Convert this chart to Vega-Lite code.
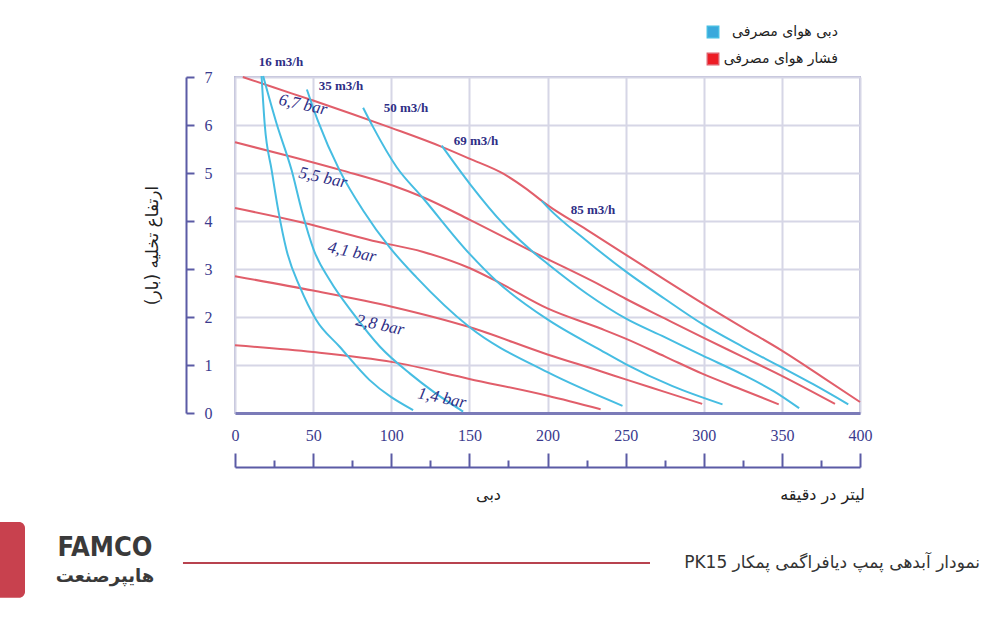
{
  "$schema": "https://vega.github.io/schema/vega-lite/v6.json",
  "width": 625,
  "height": 336,
  "autosize": "none",
  "padding": {"left": 235, "top": 77, "right": 140, "bottom": 207},
  "background": "white",
  "config": {"view": {"stroke": "#bcbcd6", "strokeWidth": 2}},
  "datasets": {
    "curves": [
      {"series": "p67", "kind": "فشار هوای مصرفی", "flow": 5, "head": 7.0},
      {"series": "p67", "kind": "فشار هوای مصرفی", "flow": 25, "head": 6.78},
      {"series": "p67", "kind": "فشار هوای مصرفی", "flow": 50, "head": 6.51},
      {"series": "p67", "kind": "فشار هوای مصرفی", "flow": 75, "head": 6.23},
      {"series": "p67", "kind": "فشار هوای مصرفی", "flow": 100, "head": 5.94},
      {"series": "p67", "kind": "فشار هوای مصرفی", "flow": 132, "head": 5.55},
      {"series": "p67", "kind": "فشار هوای مصرفی", "flow": 150, "head": 5.3},
      {"series": "p67", "kind": "فشار هوای مصرفی", "flow": 172, "head": 4.98},
      {"series": "p67", "kind": "فشار هوای مصرفی", "flow": 186, "head": 4.68},
      {"series": "p67", "kind": "فشار هوای مصرفی", "flow": 200, "head": 4.33},
      {"series": "p67", "kind": "فشار هوای مصرفی", "flow": 225, "head": 3.82},
      {"series": "p67", "kind": "فشار هوای مصرفی", "flow": 250, "head": 3.3},
      {"series": "p67", "kind": "فشار هوای مصرفی", "flow": 275, "head": 2.78},
      {"series": "p67", "kind": "فشار هوای مصرفی", "flow": 300, "head": 2.27},
      {"series": "p67", "kind": "فشار هوای مصرفی", "flow": 325, "head": 1.78},
      {"series": "p67", "kind": "فشار هوای مصرفی", "flow": 350, "head": 1.3},
      {"series": "p67", "kind": "فشار هوای مصرفی", "flow": 375, "head": 0.77},
      {"series": "p67", "kind": "فشار هوای مصرفی", "flow": 400, "head": 0.23},

      {"series": "p55", "kind": "فشار هوای مصرفی", "flow": 0, "head": 5.64},
      {"series": "p55", "kind": "فشار هوای مصرفی", "flow": 35, "head": 5.35},
      {"series": "p55", "kind": "فشار هوای مصرفی", "flow": 69, "head": 5.05},
      {"series": "p55", "kind": "فشار هوای مصرفی", "flow": 100, "head": 4.75},
      {"series": "p55", "kind": "فشار هوای مصرفی", "flow": 120, "head": 4.5},
      {"series": "p55", "kind": "فشار هوای مصرفی", "flow": 150, "head": 4.03},
      {"series": "p55", "kind": "فشار هوای مصرفی", "flow": 191, "head": 3.35},
      {"series": "p55", "kind": "فشار هوای مصرفی", "flow": 234, "head": 2.66},
      {"series": "p55", "kind": "فشار هوای مصرفی", "flow": 250, "head": 2.38},
      {"series": "p55", "kind": "فشار هوای مصرفی", "flow": 275, "head": 1.97},
      {"series": "p55", "kind": "فشار هوای مصرفی", "flow": 299, "head": 1.58},
      {"series": "p55", "kind": "فشار هوای مصرفی", "flow": 325, "head": 1.17},
      {"series": "p55", "kind": "فشار هوای مصرفی", "flow": 349, "head": 0.79},
      {"series": "p55", "kind": "فشار هوای مصرفی", "flow": 384, "head": 0.19},

      {"series": "p41", "kind": "فشار هوای مصرفی", "flow": 0, "head": 4.27},
      {"series": "p41", "kind": "فشار هوای مصرفی", "flow": 43, "head": 3.97},
      {"series": "p41", "kind": "فشار هوای مصرفی", "flow": 88, "head": 3.59},
      {"series": "p41", "kind": "فشار هوای مصرفی", "flow": 120, "head": 3.36},
      {"series": "p41", "kind": "فشار هوای مصرفی", "flow": 150, "head": 3.02},
      {"series": "p41", "kind": "فشار هوای مصرفی", "flow": 170, "head": 2.7},
      {"series": "p41", "kind": "فشار هوای مصرفی", "flow": 200, "head": 2.18},
      {"series": "p41", "kind": "فشار هوای مصرفی", "flow": 234, "head": 1.76},
      {"series": "p41", "kind": "فشار هوای مصرفی", "flow": 250, "head": 1.55},
      {"series": "p41", "kind": "فشار هوای مصرفی", "flow": 275, "head": 1.18},
      {"series": "p41", "kind": "فشار هوای مصرفی", "flow": 299, "head": 0.82},
      {"series": "p41", "kind": "فشار هوای مصرفی", "flow": 325, "head": 0.48},
      {"series": "p41", "kind": "فشار هوای مصرفی", "flow": 348, "head": 0.18},

      {"series": "p28", "kind": "فشار هوای مصرفی", "flow": 0, "head": 2.85},
      {"series": "p28", "kind": "فشار هوای مصرفی", "flow": 50, "head": 2.55},
      {"series": "p28", "kind": "فشار هوای مصرفی", "flow": 101, "head": 2.21},
      {"series": "p28", "kind": "فشار هوای مصرفی", "flow": 150, "head": 1.79},
      {"series": "p28", "kind": "فشار هوای مصرفی", "flow": 200, "head": 1.22},
      {"series": "p28", "kind": "فشار هوای مصرفی", "flow": 234, "head": 0.87},
      {"series": "p28", "kind": "فشار هوای مصرفی", "flow": 250, "head": 0.7},
      {"series": "p28", "kind": "فشار هوای مصرفی", "flow": 275, "head": 0.44},
      {"series": "p28", "kind": "فشار هوای مصرفی", "flow": 299, "head": 0.19},

      {"series": "p14", "kind": "فشار هوای مصرفی", "flow": 0, "head": 1.41},
      {"series": "p14", "kind": "فشار هوای مصرفی", "flow": 50, "head": 1.27},
      {"series": "p14", "kind": "فشار هوای مصرفی", "flow": 101, "head": 1.06},
      {"series": "p14", "kind": "فشار هوای مصرفی", "flow": 150, "head": 0.71},
      {"series": "p14", "kind": "فشار هوای مصرفی", "flow": 200, "head": 0.36},
      {"series": "p14", "kind": "فشار هوای مصرفی", "flow": 234, "head": 0.08},

      {"series": "a16a", "kind": "دبی هوای مصرفی", "flow": 17, "head": 7.02},
      {"series": "a16a", "kind": "دبی هوای مصرفی", "flow": 19, "head": 6.02},
      {"series": "a16a", "kind": "دبی هوای مصرفی", "flow": 23.5, "head": 5.05},
      {"series": "a16a", "kind": "دبی هوای مصرفی", "flow": 27.7, "head": 4.22},
      {"series": "a16a", "kind": "دبی هوای مصرفی", "flow": 33, "head": 3.39},
      {"series": "a16a", "kind": "دبی هوای مصرفی", "flow": 41.6, "head": 2.62},
      {"series": "a16a", "kind": "دبی هوای مصرفی", "flow": 51.8, "head": 1.95},
      {"series": "a16a", "kind": "دبی هوای مصرفی", "flow": 67, "head": 1.38},
      {"series": "a16a", "kind": "دبی هوای مصرفی", "flow": 86, "head": 0.69},
      {"series": "a16a", "kind": "دبی هوای مصرفی", "flow": 114, "head": 0.06},

      {"series": "a16b", "kind": "دبی هوای مصرفی", "flow": 18, "head": 7.02},
      {"series": "a16b", "kind": "دبی هوای مصرفی", "flow": 26.7, "head": 6.02},
      {"series": "a16b", "kind": "دبی هوای مصرفی", "flow": 36.3, "head": 5.05},
      {"series": "a16b", "kind": "دبی هوای مصرفی", "flow": 42.7, "head": 4.22},
      {"series": "a16b", "kind": "دبی هوای مصرفی", "flow": 50.5, "head": 3.39},
      {"series": "a16b", "kind": "دبی هوای مصرفی", "flow": 60.8, "head": 2.76},
      {"series": "a16b", "kind": "دبی هوای مصرفی", "flow": 75.7, "head": 2.07},
      {"series": "a16b", "kind": "دبی هوای مصرفی", "flow": 92.8, "head": 1.38},
      {"series": "a16b", "kind": "دبی هوای مصرفی", "flow": 112, "head": 0.82},
      {"series": "a16b", "kind": "دبی هوای مصرفی", "flow": 128, "head": 0.42},
      {"series": "a16b", "kind": "دبی هوای مصرفی", "flow": 146, "head": 0.03},

      {"series": "a35", "kind": "دبی هوای مصرفی", "flow": 46, "head": 6.74},
      {"series": "a35", "kind": "دبی هوای مصرفی", "flow": 53, "head": 6.09},
      {"series": "a35", "kind": "دبی هوای مصرفی", "flow": 67, "head": 5.05},
      {"series": "a35", "kind": "دبی هوای مصرفی", "flow": 82, "head": 4.22},
      {"series": "a35", "kind": "دبی هوای مصرفی", "flow": 99, "head": 3.45},
      {"series": "a35", "kind": "دبی هوای مصرفی", "flow": 116, "head": 2.83},
      {"series": "a35", "kind": "دبی هوای مصرفی", "flow": 150, "head": 1.79},
      {"series": "a35", "kind": "دبی هوای مصرفی", "flow": 200, "head": 0.85},
      {"series": "a35", "kind": "دبی هوای مصرفی", "flow": 248, "head": 0.15},

      {"series": "a50", "kind": "دبی هوای مصرفی", "flow": 82, "head": 6.36},
      {"series": "a50", "kind": "دبی هوای مصرفی", "flow": 88.5, "head": 5.95},
      {"series": "a50", "kind": "دبی هوای مصرفی", "flow": 103.5, "head": 5.12},
      {"series": "a50", "kind": "دبی هوای مصرفی", "flow": 120, "head": 4.49},
      {"series": "a50", "kind": "دبی هوای مصرفی", "flow": 150, "head": 3.32},
      {"series": "a50", "kind": "دبی هوای مصرفی", "flow": 168, "head": 2.73},
      {"series": "a50", "kind": "دبی هوای مصرفی", "flow": 200, "head": 1.95},
      {"series": "a50", "kind": "دبی هوای مصرفی", "flow": 234, "head": 1.31},
      {"series": "a50", "kind": "دبی هوای مصرفی", "flow": 250, "head": 1.02},
      {"series": "a50", "kind": "دبی هوای مصرفی", "flow": 280, "head": 0.56},
      {"series": "a50", "kind": "دبی هوای مصرفی", "flow": 312, "head": 0.18},

      {"series": "a69", "kind": "دبی هوای مصرفی", "flow": 132.3, "head": 5.57},
      {"series": "a69", "kind": "دبی هوای مصرفی", "flow": 150.4, "head": 4.77},
      {"series": "a69", "kind": "دبی هوای مصرفی", "flow": 171.7, "head": 3.94},
      {"series": "a69", "kind": "دبی هوای مصرفی", "flow": 190.9, "head": 3.35},
      {"series": "a69", "kind": "دبی هوای مصرفی", "flow": 200, "head": 3.11},
      {"series": "a69", "kind": "دبی هوای مصرفی", "flow": 225, "head": 2.49},
      {"series": "a69", "kind": "دبی هوای مصرفی", "flow": 250, "head": 1.97},
      {"series": "a69", "kind": "دبی هوای مصرفی", "flow": 275, "head": 1.58},
      {"series": "a69", "kind": "دبی هوای مصرفی", "flow": 299, "head": 1.2},
      {"series": "a69", "kind": "دبی هوای مصرفی", "flow": 325, "head": 0.8},
      {"series": "a69", "kind": "دبی هوای مصرفی", "flow": 345, "head": 0.45},
      {"series": "a69", "kind": "دبی هوای مصرفی", "flow": 361, "head": 0.1},

      {"series": "a85", "kind": "دبی هوای مصرفی", "flow": 196.3, "head": 4.42},
      {"series": "a85", "kind": "دبی هوای مصرفی", "flow": 200, "head": 4.29},
      {"series": "a85", "kind": "دبی هوای مصرفی", "flow": 225, "head": 3.59},
      {"series": "a85", "kind": "دبی هوای مصرفی", "flow": 250, "head": 2.95},
      {"series": "a85", "kind": "دبی هوای مصرفی", "flow": 275, "head": 2.38},
      {"series": "a85", "kind": "دبی هوای مصرفی", "flow": 299.3, "head": 1.85},
      {"series": "a85", "kind": "دبی هوای مصرفی", "flow": 325, "head": 1.38},
      {"series": "a85", "kind": "دبی هوای مصرفی", "flow": 349.4, "head": 0.96},
      {"series": "a85", "kind": "دبی هوای مصرفی", "flow": 370, "head": 0.6},
      {"series": "a85", "kind": "دبی هوای مصرفی", "flow": 392.5, "head": 0.18}
    ],
    "airLabels": [
      {"flow": 29.4, "head": 7.31, "label": "16 m3/h"},
      {"flow": 67.8, "head": 6.81, "label": "35 m3/h"},
      {"flow": 109.4, "head": 6.35, "label": "50 m3/h"},
      {"flow": 154.2, "head": 5.67, "label": "69 m3/h"},
      {"flow": 229.1, "head": 4.23, "label": "85 m3/h"}
    ],
    "barLabels": [
      {"flow": 43.5, "head": 6.42, "label": "6,7 bar"},
      {"flow": 56.3, "head": 4.9, "label": "5,5 bar"},
      {"flow": 74.9, "head": 3.35, "label": "4,1 bar"},
      {"flow": 92.8, "head": 1.83, "label": "2,8 bar"},
      {"flow": 132.5, "head": 0.31, "label": "1,4 bar"}
    ],
    "one": [{"n": 1}]
  },
  "resolve": {"axis": {"x": "independent", "y": "independent"}},
  "layer": [
    {
      "data": {"name": "curves"},
      "mark": {"type": "line", "strokeWidth": 2, "interpolate": "monotone"},
      "encoding": {
        "x": {
          "field": "flow", "type": "quantitative",
          "scale": {"domain": [0, 400], "nice": false, "zero": false},
          "axis": {
            "orient": "bottom",
            "values": [0, 50, 100, 150, 200, 250, 300, 350, 400],
            "grid": true, "gridColor": "#d6d6e6", "gridWidth": 2,
            "domain": true, "domainColor": "#7b7bb8", "domainWidth": 3,
            "ticks": false, "labelPadding": 14, "labelFlush": false,
            "labelFont": "Liberation Serif", "labelFontSize": 16, "labelColor": "#3b3b8e",
            "title": null
          }
        },
        "y": {
          "field": "head", "type": "quantitative",
          "scale": {"domain": [0, 7], "nice": false, "zero": false},
          "axis": {
            "orient": "left",
            "values": [0, 1, 2, 3, 4, 5, 6, 7],
            "grid": true, "gridColor": "#d6d6e6", "gridWidth": 2,
            "domain": false, "ticks": false,
            "labelPadding": 27, "labelAlign": "center", "labelBaseline": "middle", "labelFlush": false,
            "labelFont": "Liberation Serif", "labelFontSize": 16, "labelColor": "#3b3b8e",
            "title": null
          }
        },
        "color": {
          "field": "kind", "type": "nominal",
          "scale": {"domain": ["دبی هوای مصرفی", "فشار هوای مصرفی"], "range": ["#46bde2", "#e15e6a"]},
          "legend": {
            "orient": "none", "legendX": 471, "legendY": -52, "title": null,
            "symbolType": "square", "symbolSize": 130, "padding": 0,
            "labelFont": "DejaVu Sans", "labelFontSize": 14, "labelColor": "#222222",
            "labelAlign": "right", "labelOffset": 118, "rowPadding": 9,
            "encode": {
              "symbols": {
                "update": {
                  "fill": {"signal": "datum.value === 'دبی هوای مصرفی' ? '#3aa9dc' : '#ed1c24'"},
                  "stroke": {"value": "transparent"},
                  "shape": {"value": "square"},
                  "opacity": {"value": 1},
                  "fillOpacity": {"value": 1}
                }
              }
            }
          }
        },
        "detail": {"field": "series"}
      }
    },
    {
      "data": {"name": "barLabels"},
      "mark": {"type": "text", "font": "Liberation Serif", "fontStyle": "italic", "fontSize": 17, "angle": 12, "color": "#2e2e85"},
      "encoding": {
        "x": {
          "field": "flow", "type": "quantitative",
          "scale": {"domain": [0, 400], "nice": false, "zero": false},
          "axis": {
            "orient": "bottom",
            "values": [0, 50, 100, 150, 200, 250, 300, 350, 400],
            "offset": 54, "grid": false,
            "domain": true, "domainColor": "#5b5ba5", "domainWidth": 2,
            "ticks": true, "tickSize": -14, "tickColor": "#5b5ba5", "tickWidth": 2,
            "labels": false,
            "title": "دبی", "titleX": 253, "titleY": 27, "titleAlign": "center", "titleBaseline": "middle",
            "titleFont": "DejaVu Sans", "titleFontSize": 16, "titleFontWeight": "normal", "titleColor": "#222222"
          }
        },
        "y": {
          "field": "head", "type": "quantitative",
          "scale": {"domain": [0, 7], "nice": false, "zero": false},
          "axis": {
            "orient": "left",
            "values": [0, 1, 2, 3, 4, 5, 6, 7],
            "offset": 49, "grid": false,
            "domain": true, "domainColor": "#5b5ba5", "domainWidth": 2,
            "ticks": true, "tickSize": -8, "tickColor": "#5b5ba5", "tickWidth": 2,
            "labels": false,
            "title": "ارتفاع تخلیه (بار)", "titleX": -34, "titleY": 168, "titleAngle": -90,
            "titleAlign": "center", "titleBaseline": "middle",
            "titleFont": "DejaVu Sans", "titleFontSize": 17, "titleFontWeight": "normal", "titleColor": "#222222"
          }
        },
        "text": {"field": "label"}
      }
    },
    {
      "data": {"name": "airLabels"},
      "mark": {"type": "text", "font": "Liberation Serif", "fontWeight": "bold", "fontSize": 13, "color": "#2e2e85"},
      "encoding": {
        "x": {
          "field": "flow", "type": "quantitative",
          "scale": {"domain": [0, 400], "nice": false, "zero": false},
          "axis": {
            "orient": "bottom",
            "values": [25, 75, 125, 175, 225, 275, 325, 375],
            "offset": 54, "grid": false, "domain": false,
            "ticks": true, "tickSize": -7, "tickColor": "#5b5ba5", "tickWidth": 2,
            "labels": false,
            "title": "لیتر در دقیقه", "titleX": 587, "titleY": 27, "titleAlign": "center", "titleBaseline": "middle",
            "titleFont": "DejaVu Sans", "titleFontSize": 16, "titleFontWeight": "normal", "titleColor": "#222222"
          }
        },
        "y": {
          "field": "head", "type": "quantitative",
          "scale": {"domain": [0, 7], "nice": false, "zero": false},
          "axis": null
        },
        "text": {"field": "label"}
      }
    },
    {
      "data": {"name": "one"},
      "mark": {"type": "rect", "color": "#c8414e", "cornerRadius": 6},
      "encoding": {
        "x": {"datum": -156, "type": "quantitative", "scale": {"domain": [0, 400], "nice": false, "zero": false}, "axis": null},
        "x2": {"datum": -134.4},
        "y": {"datum": -2.27, "type": "quantitative", "scale": {"domain": [0, 7], "nice": false, "zero": false}, "axis": null},
        "y2": {"datum": -3.85}
      }
    },
    {
      "data": {"name": "one"},
      "mark": {"type": "rule", "color": "#b8434f", "strokeWidth": 2},
      "encoding": {
        "x": {"datum": -33.3, "type": "quantitative", "scale": {"domain": [0, 400], "nice": false, "zero": false}, "axis": null},
        "x2": {"datum": 265.6},
        "y": {"datum": -3.125, "type": "quantitative", "scale": {"domain": [0, 7], "nice": false, "zero": false}, "axis": null}
      }
    },
    {
      "data": {"name": "one"},
      "mark": {"type": "text", "text": "‫نمودار آبدهی پمپ دیافراگمی پمکار PK15‬", "align": "right", "baseline": "middle", "font": "DejaVu Sans", "fontSize": 17, "color": "#333333"},
      "encoding": {
        "x": {"datum": 476.8, "type": "quantitative", "scale": {"domain": [0, 400], "nice": false, "zero": false}, "axis": null},
        "y": {"datum": -3.125, "type": "quantitative", "scale": {"domain": [0, 7], "nice": false, "zero": false}, "axis": null}
      }
    },
    {
      "data": {"name": "one"},
      "mark": {"type": "text", "text": "FAMCO", "align": "center", "baseline": "middle", "font": "DejaVu Sans Condensed", "fontWeight": "bold", "fontSize": 27, "color": "#3a3a3a"},
      "encoding": {
        "x": {"datum": -83.2, "type": "quantitative", "scale": {"domain": [0, 400], "nice": false, "zero": false}, "axis": null},
        "y": {"datum": -2.81, "type": "quantitative", "scale": {"domain": [0, 7], "nice": false, "zero": false}, "axis": null}
      }
    },
    {
      "data": {"name": "one"},
      "mark": {"type": "text", "text": "هایپرصنعت", "align": "center", "baseline": "middle", "font": "DejaVu Sans", "fontWeight": "bold", "fontSize": 18, "color": "#3a3a3a"},
      "encoding": {
        "x": {"datum": -83.2, "type": "quantitative", "scale": {"domain": [0, 400], "nice": false, "zero": false}, "axis": null},
        "y": {"datum": -3.42, "type": "quantitative", "scale": {"domain": [0, 7], "nice": false, "zero": false}, "axis": null}
      }
    }
  ]
}
